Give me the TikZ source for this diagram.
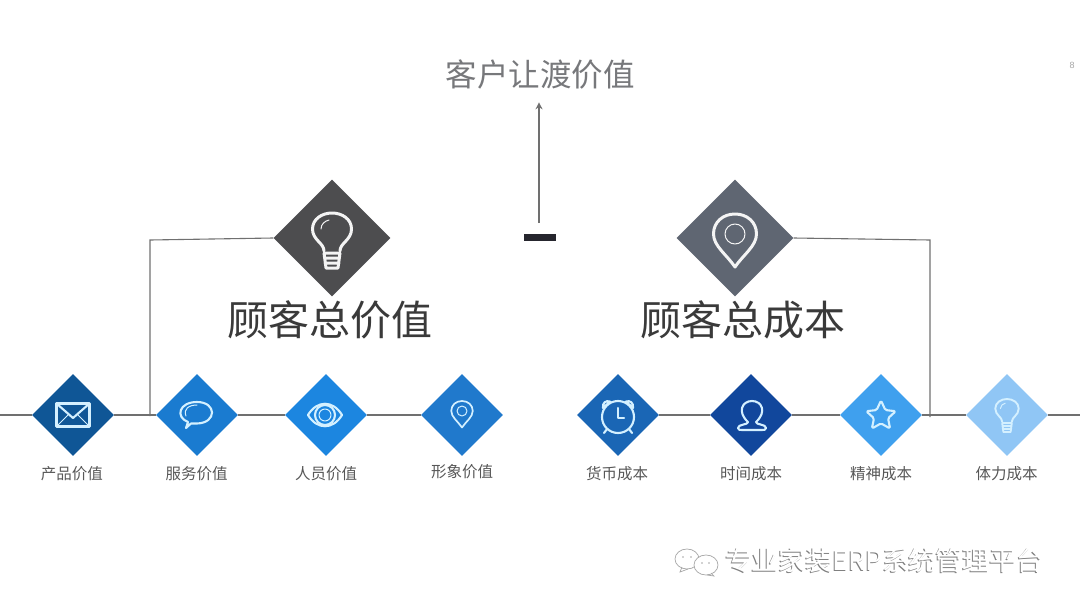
\documentclass[tikz,border=0pt]{standalone}
\usepackage{fontspec}
\setmainfont{Liberation Sans}
\newfontfamily\cjk{Noto Sans CJK SC}
\usetikzlibrary{shapes.geometric, arrows.meta}
\definecolor{linegray}{HTML}{707070}
\definecolor{icongray}{HTML}{F4F4F4}
\definecolor{iconblue}{HTML}{D4F0FF}
\definecolor{textgray}{HTML}{3A3A3A}
\definecolor{titlegray}{HTML}{77787B}

\tikzset{
    gem/.style={diamond, aspect=1, inner sep=0pt, minimum size=82pt},
    biggem/.style={diamond, aspect=1, inner sep=0pt, minimum size=117pt},
    small label/.style={font=\cjk\fontsize{15.5}{16}\selectfont, text=textgray!85},
    big label/.style={font=\cjk\fontsize{41}{42}\selectfont, text=textgray},
    connector/.style={draw=linegray, line width=1.1pt},
    icon/.style={draw=iconblue, line width=2.1pt, line join=round, line cap=round},
    bigicon/.style={draw=icongray, line width=3pt, line join=round, line cap=round},
    bulbicon/.pic={
        \draw (-8,13) .. controls (-8,5) and (-19.5,2) .. (-19.5,-9) .. controls (-19.5,-19) and (-10,-25) .. (0,-25)
              .. controls (10,-25) and (19.5,-19) .. (19.5,-9) .. controls (19.5,2) and (8,5) .. (8,13);
        \draw (-8,15) -- (8,15) (-7.5,20) -- (7.5,20) (-7,25) -- (7,25) (-6,30) -- (6,30) (-8,15) -- (-6,30) (8,15) -- (6,30);
        \draw[line width=1pt] (-11,-9) .. controls (-11,-14) and (-7,-17) .. (-3,-18);
    },
    pinicon/.pic={
        \draw (0,29) .. controls (-8,17) and (-21.5,8) .. (-21.5,-4) .. controls (-21.5,-16) and (-12,-24) .. (0,-24)
              .. controls (12,-24) and (21.5,-16) .. (21.5,-4) .. controls (21.5,8) and (8,17) .. (0,29) -- cycle;
        \draw[line width=1pt] (0,-4) circle[radius=10];
    }
}

\begin{document}
\begin{tikzpicture}[x=1pt, y=-1pt]
\useasboundingbox (0,0) rectangle (1080,608);

% Top of the picture
\node[font=\cjk\fontsize{31.5}{32}\selectfont, text=titlegray] (result) at (540,75) {客户让渡价值};
\node[font=\fontsize{9}{10}\selectfont, text=gray!70] (pagenumber) at (1072,65) {8};
\node[fill={rgb,255:red,38;green,38;blue,46}, minimum width=32pt, minimum height=6.5pt, inner sep=0pt] (minus) at (540,237.5) {};
\draw[connector, -{Stealth[length=7pt, width=7pt]}, shorten <=11pt, shorten >=9pt] ([xshift=-1pt]minus.north) -- ([xshift=-1pt]result.south);

% Two big diamonds
\node[biggem, fill={rgb,255:red,77;green,77;blue,79}] (totalvalue) at (332,238) {};
\node[biggem, fill={rgb,255:red,95;green,102;blue,114}] (totalcost) at (735,238) {};
\pic[bigicon] at (332,238) {bulbicon};
\pic[bigicon] at (735,238) {pinicon};
\node[big label] (valuelabel) at (329.5,320) {顾客总价值};
\node[big label] (costlabel) at (742.5,320) {顾客总成本};

% Row of small diamonds
\node[gem, fill={rgb,255:red,15;green,86;blue,150}] (product) at (73,415) {};
\node[gem, fill={rgb,255:red,26;green,123;blue,208}] (service) at (197,415) {};
\node[gem, fill={rgb,255:red,28;green,134;blue,224}] (staff) at (326,415) {};
\node[gem, fill={rgb,255:red,32;green,121;blue,204}] (image) at (462,415) {};
\node[gem, fill={rgb,255:red,26;green,102;blue,181}] (money) at (618,415) {};
\node[gem, fill={rgb,255:red,17;green,71;blue,156}] (time) at (751,415) {};
\node[gem, fill={rgb,255:red,63;green,160;blue,238}] (spirit) at (881,415) {};
\node[gem, fill={rgb,255:red,144;green,198;blue,245}] (energy) at (1007,415) {};

\node[small label] at (72,474) (productlabel) {产品价值};
\node[small label] at (196.5,474) (servicelabel) {服务价值};
\node[small label] at (326,474) (stafflabel) {人员价值};
\node[small label] at (462,472) (imagelabel) {形象价值};
\node[small label] at (617,474) (moneylabel) {货币成本};
\node[small label] at (751,474) (timelabel) {时间成本};
\node[small label] at (881,474) (spiritlabel) {精神成本};
\node[small label] at (1006.5,474) (energylabel) {体力成本};

% Lines between the diamonds
\coordinate (leftend) at (0,415);
\coordinate (rightend) at (1080,415);
\coordinate (valuecorner) at (150,240);
\coordinate (valuefoot) at (150,416);
\coordinate (costcorner) at (930,240);
\coordinate (costfoot) at (930,417);
\draw[connector] (leftend) -- (product.west);
\draw[connector] (product.east) -- (service.west);
\draw[connector] (service.east) -- (staff.west);
\draw[connector] (staff.east) -- (image.west);
\draw[connector] (money.east) -- (time.west);
\draw[connector] (time.east) -- (spirit.west);
\draw[connector] (spirit.east) -- (energy.west);
\draw[connector] (energy.east) -- (rightend);
\draw[connector] (totalvalue.west) -- (valuecorner) -- (valuefoot);
\draw[connector] (totalcost.east) -- (costcorner) -- (costfoot);

% Icons
\begin{scope}[shift={(73,415)}, icon] % envelope
    \draw (-16.5,-11.5) rectangle (16.5,11.5);
    \draw (-16.5,-11.5) -- (0,3) -- (16.5,-11.5);
    \draw[line width=1pt] (-16.5,11.5) -- (-4,-1) (16.5,11.5) -- (4,-1);
\end{scope}
\begin{scope}[shift={(197,413)}, icon] % speech bubble
    \draw (-9,9) .. controls (-22,4) and (-18,-11) .. (0,-11) .. controls (20,-11) and (20,10) .. (0,10.5)
          .. controls (-3,10.5) and (-5,10.5) .. (-6,10.5) -- (-11,15) -- cycle;
    \draw[line width=1pt] (-11,3) .. controls (-14,-4) and (-8,-8) .. (0,-8);
\end{scope}
\begin{scope}[shift={(325,415)}, icon] % eye
    \draw (-17,0) .. controls (-8,-15) and (8,-15) .. (17,0) .. controls (8,15) and (-8,15) .. (-17,0) -- cycle;
    \draw (0,0) circle[radius=10];
    \draw[line width=1pt] (0,0) circle[radius=6];
\end{scope}
\pic[icon, line width=1.7pt, scale=.5] at (462,413) {pinicon};
\begin{scope}[shift={(618,417)}, icon] % clock
    \draw (0,0) circle[radius=16];
    \draw (0,-9) -- (0,1) -- (6,1);
    \draw (-15,-9) .. controls (-16,-14) and (-12,-17) .. (-8,-15.5) -- cycle;
    \draw (15,-9) .. controls (16,-14) and (12,-17) .. (8,-15.5) -- cycle;
    \draw (-11,12) -- (-14,16) (11,12) -- (14,16);
\end{scope}
\begin{scope}[shift={(752,415)}, icon] % person
    \draw (-4,7) .. controls (-15,-3) and (-10,-14) .. (0,-14) .. controls (10,-14) and (15,-3) .. (4,7);
    \draw (-4,7) .. controls (-4,10) and (-14,9) .. (-14,13) .. controls (-14,15) and (-12,15) .. (-10,15)
          -- (10,15) .. controls (12,15) and (14,15) .. (14,13) .. controls (14,9) and (4,10) .. (4,7);
\end{scope}
\node[icon, star, star points=5, star point ratio=2.1, minimum size=31pt, inner sep=0pt, rounded corners=1.5pt] (starshape) at (881,416) {};
\pic[icon, line width=1.9pt, scale=.6] at (1007,414) {bulbicon};

% Watermark
\begin{scope}[shift={(696,562)}, draw=gray!70, line width=.7pt]
    \draw[fill=white] (-9,-3) ellipse[x radius=12, y radius=10];
    \draw (-14,5) -- (-16,10) -- (-8,7);
    \draw[fill=white] (10,3) ellipse[x radius=12, y radius=10];
    \draw (15,11) -- (18,14) -- (11,13);
    \fill[gray!70] (-13,-5) circle[radius=.9] (-5,-5) circle[radius=.9] (6,1) circle[radius=.9] (13,1) circle[radius=.9];
\end{scope}
\node[font=\cjk\fontsize{26.8}{28}\selectfont, text=gray] (markshadow) at (883,560.8) {专业家装ERP系统管理平台};
\node[font=\cjk\fontsize{26.8}{28}\selectfont, text=white] (marktext) at (884,560) {专业家装ERP系统管理平台};
\end{tikzpicture}
\end{document}
